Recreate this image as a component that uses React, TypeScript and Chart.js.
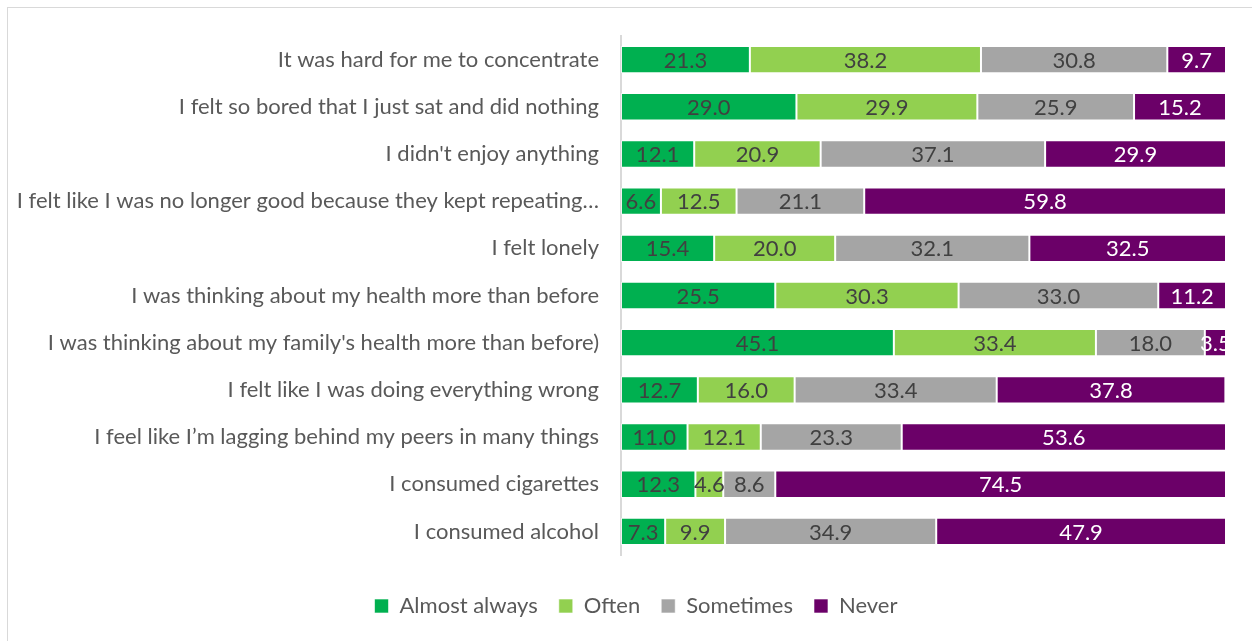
import React, { useEffect, useRef } from "react";
import { Chart, registerables } from "chart.js";

Chart.register(...registerables);

const categories = [
  "It was hard for me to concentrate",
  "I felt so bored that I just sat and did nothing",
  "I didn't enjoy anything",
  "I felt like I was no longer good because they kept repeating…",
  "I felt lonely",
  "I was thinking about my health more than before",
  "I was thinking about my family's health more than before)",
  "I felt like I was doing everything wrong",
  "I feel like I’m lagging behind my peers in many things",
  "I consumed cigarettes",
  "I consumed alcohol",
];

const almostAlways = [21.3, 29.0, 12.1, 6.6, 15.4, 25.5, 45.1, 12.7, 11.0, 12.3, 7.3];
const often = [38.2, 29.9, 20.9, 12.5, 20.0, 30.3, 33.4, 16.0, 12.1, 4.6, 9.9];
const sometimes = [30.8, 25.9, 37.1, 21.1, 32.1, 33.0, 18.0, 33.4, 23.3, 8.6, 34.9];
const never = [9.7, 15.2, 29.9, 59.8, 32.5, 11.2, 3.5, 37.8, 53.6, 74.5, 47.9];

const seriesNames = ["Almost always", "Often", "Sometimes", "Never"];
const seriesColors = ["#00B050", "#92D050", "#A5A5A5", "#6B0068"];
const labelColors = ["#404040", "#404040", "#404040", "#FFFFFF"];

const FONT = "Lato, 'Open Sans', sans-serif";
const FS = 22;
const LEGEND_LEFT = 38;

const dataLabelPlugin = {
  id: "dataLabels",
  afterLayout(chart: any) {
    if (chart.legend) chart.legend.left = LEGEND_LEFT;
  },
  afterDatasetsDraw(chart: any) {
    const ctx = chart.ctx;
    ctx.save();
    ctx.font = `${FS}px ${FONT}`;
    ctx.textAlign = "center";
    ctx.textBaseline = "middle";
    chart.data.datasets.forEach((ds: any, di: number) => {
      const meta = chart.getDatasetMeta(di);
      meta.data.forEach((el: any, i: number) => {
        const v = ds.data[i];
        const cx = (el.x + el.base) / 2;
        ctx.fillStyle = labelColors[di];
        ctx.fillText(v.toFixed(1), cx, el.y + 1);
      });
    });
    ctx.restore();
  },
};

export default function App() {
  const ref = useRef<HTMLCanvasElement | null>(null);
  useEffect(() => {
    if (!ref.current) return;
    const data = [almostAlways, often, sometimes, never];
    const chart = new Chart(ref.current, {
      type: "bar",
      data: {
        labels: categories,
        datasets: seriesNames.map((name, i) => ({
          label: name,
          data: data[i],
          backgroundColor: seriesColors[i],
          borderColor: "rgba(255,255,255,0.6)",
          borderWidth: 1,
          borderSkipped: false,
          categoryPercentage: 1,
          barPercentage: 0.58,
        })),
      },
      options: {
        indexAxis: "y",
        animation: false,
        responsive: false,
        maintainAspectRatio: false,
        layout: { padding: { top: 28, right: 32, bottom: 14, left: 0 } },
        scales: {
          x: {
            stacked: true,
            min: 0,
            max: 100,
            display: true,
            grid: { display: false, drawTicks: false },
            border: { display: false },
            ticks: { display: false },
            afterFit(scale: any) {
              scale.height = 19;
            },
          },
          y: {
            stacked: true,
            grid: {
              display: true,
              drawOnChartArea: false,
              drawTicks: true,
              tickLength: 22,
              color: "rgba(0,0,0,0)",
            },
            border: { display: true, color: "#D9D9D9", width: 2 },
            ticks: {
              color: "#595959",
              font: { family: FONT, size: FS },
              padding: 0,
              autoSkip: false,
            },
            afterFit(scale: any) {
              scale.width = 613;
            },
          },
        },
        plugins: {
          legend: {
            position: "bottom",
            labels: {
              color: "#595959",
              font: { family: FONT, size: FS },
              boxWidth: 14,
              boxHeight: 14,
              padding: 21,
            },
          },
          tooltip: { enabled: false },
        },
      },
      plugins: [dataLabelPlugin],
    });
    return () => chart.destroy();
  }, []);
  return (
    <div
      style={{
        position: "fixed",
        left: 7,
        top: 7,
        width: 1260,
        height: 650,
        border: "1px solid #D9D9D9",
        background: "#fff",
      }}
    >
      <canvas ref={ref} width={1250} height={633} style={{ display: "block" }} />
    </div>
  );
}
